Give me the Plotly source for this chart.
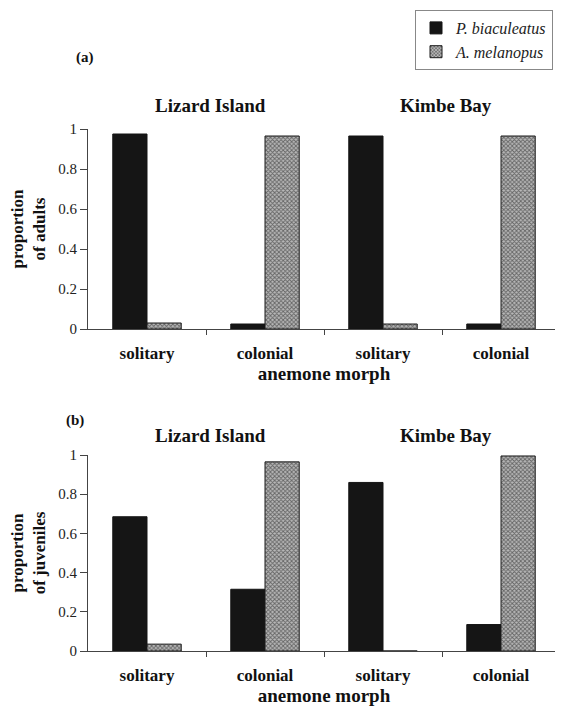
import plotly.graph_objects as go

morphs = ["solitary", "colonial", "solitary", "colonial"]
sites = ["Lizard Island", "Kimbe Bay"]
species = ["P. biaculeatus", "A. melanopus"]
adults_pb = [0.975, 0.025, 0.965, 0.025]
adults_am = [0.03, 0.965, 0.025, 0.965]
juv_pb = [0.685, 0.315, 0.86, 0.135]
juv_am = [0.035, 0.965, 0.0, 0.995]
panel_labels = ["(a)", "(b)"]
y_titles = ["proportion<br>of adults", "proportion<br>of juveniles"]
y_ticks = [0, 0.2, 0.4, 0.6, 0.8, 1]
y_ticktext = ["0", "0.2", "0.4", "0.6", "0.8", "1"]

xpos = list(range(len(morphs)))
SERIF = "Liberation Serif"

# page body adds an 8px margin; the figure is sized to fit the window
W, H = 555, 698
OFF = 8


def px(x):
    return (x - OFF) / W


def py(y):
    return 1 - (y - OFF) / H


fig = go.Figure()
black = "#151515"

for i, (pb, am) in enumerate([(adults_pb, adults_am), (juv_pb, juv_am)]):
    xa = "x" if i == 0 else "x2"
    ya = "y" if i == 0 else "y2"
    fig.add_trace(go.Bar(x=xpos, y=pb, name="<i>" + species[0] + "</i>",
                         marker=dict(color=black, line=dict(color=black, width=1)),
                         xaxis=xa, yaxis=ya, showlegend=(i == 0), legendgroup="pb"))
    fig.add_trace(go.Bar(x=xpos, y=am, name="<i>" + species[1] + "</i>",
                         marker=dict(color="#ffffff",
                                     line=dict(color="#1a1a1a", width=1),
                                     pattern=dict(shape="x", fgcolor="#111111", bgcolor="#b8b8b8",
                                                  size=3, solidity=0.5)),
                         xaxis=xa, yaxis=ya, showlegend=(i == 0), legendgroup="am"))

xaxis_common = dict(
    range=[-0.5, 3.5], tickmode="array", tickvals=xpos, ticktext=morphs,
    ticks="", showline=True, linecolor="#444444", linewidth=1,
    showgrid=False, zeroline=False, automargin=False,
    ticklabelstandoff=9,
    tickfont=dict(family=SERIF, size=17, color="#111111", weight="bold"),
    minor=dict(tickmode="array", tickvals=[0.5, 1.5, 2.5], ticks="outside",
               ticklen=5, tickcolor="#444444", tickwidth=1, showgrid=False),
    title=dict(text="anemone morph", font=dict(family=SERIF, size=19, color="#111111", weight="bold"),
               standoff=0),
    fixedrange=True,
)
yaxis_common = dict(
    range=[0, 1.0], tickmode="array", tickvals=y_ticks, ticktext=y_ticktext,
    ticks="outside", ticklen=7, tickcolor="#444444", automargin=False,
    showline=True, linecolor="#444444", linewidth=1, showgrid=False, zeroline=False,
    tickfont=dict(family=SERIF, size=15, color="#222222"),
)

fig.update_layout(
    width=W, height=H,
    margin=dict(l=0, r=0, t=0, b=0, autoexpand=False),
    paper_bgcolor="white", plot_bgcolor="white",
    barmode="group", bargap=0.42, bargroupgap=0.0,
    font=dict(family=SERIF),
    xaxis=dict(domain=[px(88), px(560)], anchor="y", **xaxis_common),
    xaxis2=dict(domain=[px(88), px(560)], anchor="y2", **xaxis_common),
    yaxis=dict(domain=[py(329), py(129)], anchor="x",
               title=dict(text=y_titles[0], font=dict(family=SERIF, size=17, color="#111111", weight="bold"),
                          standoff=8),
               **yaxis_common),
    yaxis2=dict(domain=[py(651), py(455)], anchor="x2",
                title=dict(text=y_titles[1], font=dict(family=SERIF, size=17, color="#111111", weight="bold"),
                           standoff=8),
                **yaxis_common),
    legend=dict(x=px(553), y=py(10), xanchor="right", yanchor="top",
                bordercolor="#888888", borderwidth=1, bgcolor="white",
                font=dict(family=SERIF, size=16, color="#222222"),
                itemwidth=30, tracegroupgap=0),
    showlegend=True,
)

# site titles above each pair of categories
for xa, yv in [("x", py(105)), ("x2", py(435))]:
    for k, s in enumerate(sites):
        fig.add_annotation(text=s, xref=xa, yref="paper", x=0.5 + 2 * k, y=yv,
                           showarrow=False, xanchor="center", yanchor="middle", xshift=4,
                           font=dict(family=SERIF, size=19, color="#111111", weight="bold"))

fig.add_annotation(text=panel_labels[0], xref="paper", yref="paper", x=px(85), y=py(58),
                   showarrow=False, xanchor="center", yanchor="middle",
                   font=dict(family=SERIF, size=15, color="#111111", weight="bold"))
fig.add_annotation(text=panel_labels[1], xref="paper", yref="paper", x=px(75), y=py(420),
                   showarrow=False, xanchor="center", yanchor="middle",
                   font=dict(family=SERIF, size=15, color="#111111", weight="bold"))

fig.write_html("out.html")
